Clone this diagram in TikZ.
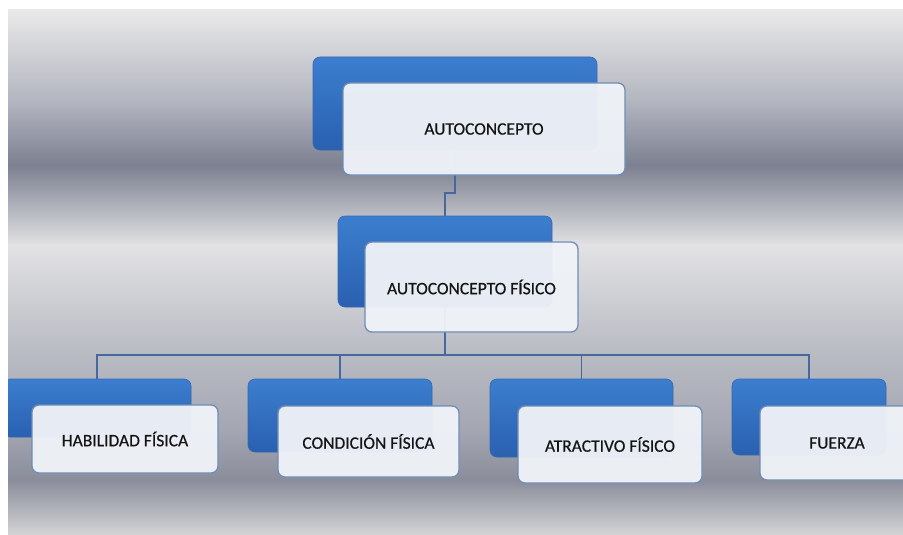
\documentclass[tikz,border=0pt]{standalone}
\usepackage{fontspec}
\setmainfont{Carlito}
\newfontfamily\boxfont[FakeBold=0.5]{Carlito}
\definecolor{g0}{HTML}{D4D4D6}
\definecolor{g1}{HTML}{8A8D9A}
\definecolor{g2}{HTML}{A4A7B2}
\definecolor{g3}{HTML}{BABCC4}
\definecolor{g4}{HTML}{E2E2E4}
\definecolor{g5}{HTML}{7C8090}
\definecolor{g6}{HTML}{B4B6C0}
\definecolor{g7}{HTML}{E9E9E9}
\definecolor{bluetop}{HTML}{3C7ECE}
\definecolor{bluebot}{HTML}{2A60B0}
\definecolor{bluedge}{HTML}{3468B0}
\definecolor{whfill}{HTML}{EFF2F7}
\definecolor{whedge}{HTML}{6F8DB6}
\definecolor{conncol}{HTML}{47689C}
\pgfdeclareverticalshading{bgshade}{100bp}{color(0bp)=(g0); color(25bp)=(g0); color(30.24bp)=(g1); color(35bp)=(g2); color(42.6bp)=(g3); color(52.6bp)=(g4); color(60.2bp)=(g5); color(66.4bp)=(g6); color(75bp)=(g7); color(100bp)=(g7)}
\pgfdeclarelayer{bglayer}
\pgfdeclarelayer{linelayer}
\pgfsetlayers{bglayer,linelayer,main}
\tikzset{
  bluebox/.style={rectangle, rounded corners=7pt, draw=bluedge, line width=0.6pt, top color=bluetop, bottom color=bluebot, inner sep=0pt},
  whitebox/.style={rectangle, rounded corners=7pt, draw=whedge, line width=1.3pt, fill=whfill, fill opacity=0.96, text opacity=1, inner sep=0pt, font=\boxfont\fontsize{17.5}{20}\selectfont, text=black!92},
  conn/.style={draw=conncol, line width=1.5pt}
}
\begin{document}
\begin{tikzpicture}[x=1pt,y=-1pt]
\useasboundingbox (0,0) rectangle (903,535);
\begin{pgfonlayer}{bglayer}
  \fill[white] (0,0) rectangle (903,535);
  \shade[shading=bgshade] (8,10) rectangle (903,535);
\end{pgfonlayer}
\begin{scope}
  \clip (8,10) rectangle (903,535);
  % level 0
  \node[bluebox, minimum width=284pt, minimum height=93pt] (b0) at (455,103.5) {};
  \node[whitebox, minimum width=282pt, minimum height=92pt] (w0) at (484,129) {AUTOCONCEPTO};
  % level 1
  \node[bluebox, minimum width=214pt, minimum height=91pt] (b1) at (445,261.5) {};
  \node[whitebox, minimum width=213pt, minimum height=90pt] (w1) at (471.5,287) {AUTOCONCEPTO FÍSICO};
  % level 2
  \node[bluebox, minimum width=188pt, minimum height=58pt] (b2) at (97,408) {};
  \node[whitebox, minimum width=186pt, minimum height=68pt] (w2) at (125,439) {HABILIDAD FÍSICA};
  \node[bluebox, minimum width=184pt, minimum height=73pt] (b3) at (340,415.5) {};
  \node[whitebox, minimum width=181pt, minimum height=71pt] (w3) at (368.5,441.5) {CONDICIÓN FÍSICA};
  \node[bluebox, minimum width=183pt, minimum height=78pt] (b4) at (581.5,418) {};
  \node[whitebox, minimum width=184pt, minimum height=77pt] (w4) at (610,444.5) {ATRACTIVO FÍSICO};
  \node[bluebox, minimum width=154pt, minimum height=76pt] (b5) at (809,417) {};
  \node[whitebox, minimum width=154pt, minimum height=74pt] (w5) at (837,443) {FUERZA};
\end{scope}
\coordinate (j0) at (0,193);
\coordinate (j1) at (0,355);
\begin{pgfonlayer}{linelayer}
  \draw[conn] (b0.south) -- (b0.south |- j0) -| (b1.north);
  \draw[conn] (b1.south) -- (b1.south |- j1) -| (b2.north);
  \draw[conn] (b1.south) -- (b1.south |- j1) -| (b3.north);
  \draw[conn] (b1.south) -- (b1.south |- j1) -| (b4.north);
  \draw[conn] (b1.south) -- (b1.south |- j1) -| (b5.north);
\end{pgfonlayer}
\end{tikzpicture}
\end{document}
